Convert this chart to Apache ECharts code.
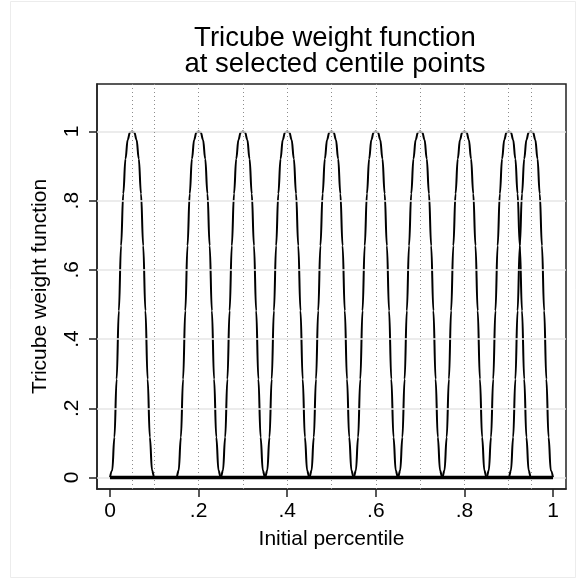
<!DOCTYPE html>
<html>
<head>
<meta charset="utf-8">
<script src="https://cdn.jsdelivr.net/npm/echarts@6/dist/echarts.min.js"></script>
<style>
  html, body { margin: 0; padding: 0; background: #fff; }
  #chart { width: 576px; height: 579px; }
</style>
</head>
<body>
<div id="chart"></div>
<script>
// centile points where a tricube weight is centred
var centres = [0.05, 0.2, 0.3, 0.4, 0.5, 0.6, 0.7, 0.8, 0.9, 0.95];
// dotted reference lines
var refLines = [0.05, 0.1, 0.2, 0.3, 0.4, 0.5, 0.6, 0.7, 0.8, 0.9, 0.95];
var halfWidth = 0.05;
// shape of one bump: offset (fraction of half width) -> weight
var bumpOffsets = [-1, -0.9, -0.8, -0.7, -0.6, -0.5, -0.4, -0.3, -0.2, -0.1, 0,
                   0.1, 0.2, 0.3, 0.4, 0.5, 0.6, 0.7, 0.8, 0.9, 1];
var bumpWeights = [0, 0.02, 0.116, 0.284, 0.482, 0.67, 0.82, 0.921, 0.976, 0.997, 1,
                   0.997, 0.976, 0.921, 0.82, 0.67, 0.482, 0.284, 0.116, 0.02, 0];
var xTicks = [0, 0.2, 0.4, 0.6, 0.8, 1];
var xTickLabels = ['0', '.2', '.4', '.6', '.8', '1'];
var yTicks = [0, 0.2, 0.4, 0.6, 0.8, 1];
var yTickLabels = ['0', '.2', '.4', '.6', '.8', '1'];

var myChart = echarts.init(document.getElementById('chart'));
var font = 'Liberation Sans, Arial, Helvetica, sans-serif';

function labelFor(ticks, labels) {
    return function (v) {
        for (var i = 0; i < ticks.length; i++) {
            if (Math.abs(ticks[i] - v) < 1e-9) return labels[i];
        }
        return '';
    };
}

var series = centres.map(function (c) {
    var pts = [];
    if (c - halfWidth > 0) pts.push([0, 0]);
    for (var i = 0; i < bumpOffsets.length; i++) {
        pts.push([c + bumpOffsets[i] * halfWidth, bumpWeights[i]]);
    }
    if (c + halfWidth < 1) pts.push([1, 0]);
    return {
        type: 'line',
        data: pts,
        symbol: 'none',
        smooth: 0.4,
        smoothMonotone: 'x',
        lineStyle: {color: '#000', width: 2},
        silent: true,
        z: 3
    };
});

// gridlines and dotted verticals
series.push({
    type: 'line',
    data: [],
    silent: true,
    markLine: {
        symbol: 'none',
        silent: true,
        label: {show: false},
        data: yTicks.map(function (v) {
            return {yAxis: v, lineStyle: {color: '#e6e6e6', width: 1.5, type: 'solid'}};
        }).concat(refLines.map(function (v) {
            return {xAxis: v, lineStyle: {color: '#8c8c8c', width: 1, type: [1, 3]}};
        }))
    },
    z: 1
});
// the flat zero part
series.push({
    type: 'line',
    data: [[xTicks[0], 0], [xTicks[xTicks.length - 1], 0]],
    symbol: 'none',
    lineStyle: {color: '#000', width: 3.5},
    silent: true,
    z: 5
});

var option = {
    animation: false,
    backgroundColor: '#fff',
    textStyle: {fontFamily: font},
    title: {
        text: 'Tricube weight function\nat selected centile points',
        left: 330,
        textAlign: 'center',
        top: 20,
        textStyle: {fontFamily: font, fontSize: 27.5, fontWeight: 'normal', color: '#000', lineHeight: 26}
    },
    graphic: [{
        type: 'rect',
        shape: {x: 10.5, y: 1.5, width: 565, height: 576},
        style: {fill: 'none', stroke: '#ececec', lineWidth: 1},
        silent: true
    }],
    grid: {
        left: 97, top: 84, width: 469, height: 405,
        show: true, borderColor: '#222', borderWidth: 1.5, backgroundColor: '#fff'
    },
    xAxis: {
        type: 'value',
        min: -0.0293, max: 1.0293,
        name: 'Initial percentile',
        nameLocation: 'middle',
        nameGap: 40,
        nameTextStyle: {fontFamily: font, fontSize: 21, color: '#000'},
        axisLine: {show: true, onZero: false, lineStyle: {color: '#222', width: 1.5}},
        axisTick: {show: true, length: 8, customValues: xTicks, lineStyle: {color: '#222', width: 1.5}},
        axisLabel: {customValues: xTicks, formatter: labelFor(xTicks, xTickLabels), fontSize: 21, color: '#000', margin: 12, fontFamily: font},
        splitLine: {show: false}
    },
    yAxis: {
        type: 'value',
        min: -0.0332, max: 1.137,
        name: 'Tricube weight function',
        nameLocation: 'middle',
        nameGap: 46,
        nameTextStyle: {fontFamily: font, fontSize: 21, color: '#000'},
        axisLine: {show: true, onZero: false, lineStyle: {color: '#222', width: 1.5}},
        axisTick: {show: true, length: 8, customValues: yTicks, lineStyle: {color: '#222', width: 1.5}},
        axisLabel: {customValues: yTicks, formatter: labelFor(yTicks, yTickLabels), rotate: 90, fontSize: 21, color: '#000', margin: 14, fontFamily: font},
        splitLine: {show: false}
    },
    series: series
};

myChart.setOption(option);
</script>
</body>
</html>
